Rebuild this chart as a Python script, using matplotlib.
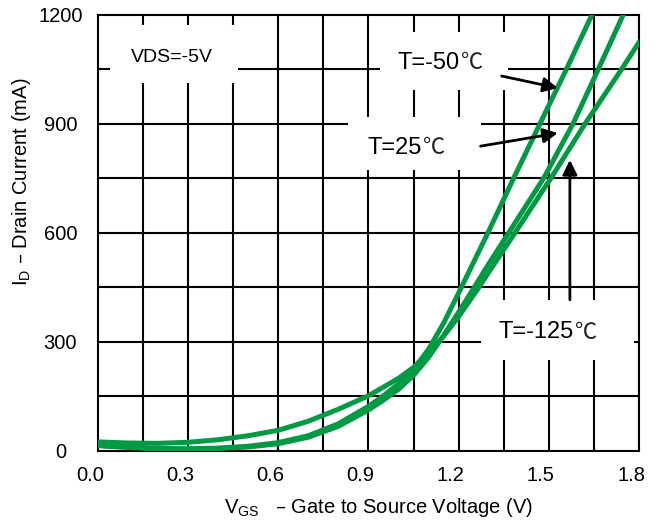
import numpy as np
import matplotlib.pyplot as plt
import matplotlib.transforms as mtransforms
from matplotlib.patches import Rectangle

plt.rcParams['font.family'] = ['Liberation Sans', 'Noto Sans CJK SC', 'DejaVu Sans']

# transfer curves (VGS in V, ID in mA)
vgs_m50 = [0.0, 0.1, 0.2, 0.3, 0.4, 0.5, 0.6, 0.7, 0.8, 0.9, 0.95, 1.0, 1.05,
           1.1, 1.15, 1.2, 1.25, 1.3, 1.383, 1.47, 1.557, 1.643]
id_m50 = [15, 10, 7, 6, 8, 13, 23, 42, 75, 123, 152, 185, 225,
          280, 352, 435, 520, 605, 751, 900, 1048, 1200]

vgs_25 = [0.0, 0.1, 0.2, 0.3, 0.4, 0.5, 0.6, 0.7, 0.8, 0.9, 0.95, 1.0, 1.05,
          1.1, 1.15, 1.2, 1.25, 1.3, 1.38, 1.483, 1.58, 1.663, 1.747]
id_25 = [15, 10, 6, 5, 7, 11, 20, 38, 68, 113, 140, 170, 208,
         258, 318, 382, 448, 515, 618, 751, 900, 1048, 1200]

vgs_125 = [0.0, 0.1, 0.2, 0.3, 0.4, 0.5, 0.6, 0.7, 0.8, 0.9, 1.0, 1.05,
           1.1, 1.15, 1.2, 1.263, 1.3, 1.387, 1.507, 1.62, 1.74, 1.8]
id_125 = [25, 22, 21, 24, 31, 42, 57, 82, 115, 152, 200, 230,
          270, 316, 370, 445, 492, 600, 751, 900, 1048, 1125]

x_ticks = [0.0, 0.3, 0.6, 0.9, 1.2, 1.5, 1.8]
y_ticks = [0, 300, 600, 900, 1200]

green = '#009a44'

fig = plt.figure(figsize=(6.66, 5.26), dpi=100)
ax = fig.add_axes([0.147, 0.1426, 0.8125, 0.8289])
ax.set_xlim(0, 1.8)
ax.set_ylim(0, 1200)

# grid every 0.15 V and 150 mA
for v in np.arange(0.15, 1.8, 0.15):
    ax.axvline(v, color='black', lw=1.5, zorder=1)
for i in np.arange(150, 1200, 150):
    ax.axhline(i, color='black', lw=1.5, zorder=1)
for s in ax.spines.values():
    s.set_linewidth(1.5)

# white boxes behind the labels (they cut the grid)
boxes = [(0.04, 1013, 0.427, 159), (0.94, 993, 0.423, 160),
         (0.833, 773, 0.44, 146), (1.273, 250, 0.51, 166)]
for bx, by, bw, bh in boxes:
    ax.add_patch(Rectangle((bx, by), bw, bh, facecolor='white',
                           edgecolor='none', zorder=2))

ax.plot(vgs_m50, id_m50, color=green, lw=3.6, zorder=4, solid_joinstyle='round')
ax.plot(vgs_25, id_25, color=green, lw=3.6, zorder=4, solid_joinstyle='round')
ax.plot(vgs_125, id_125, color=green, lw=3.6, zorder=4, solid_joinstyle='round')

ax.text(0.247, 1082, 'VDS=-5V', fontsize=14, ha='center', va='center', zorder=5)


def temp_label(x, y, txt):
    t = ax.text(x, y, txt, fontsize=17, ha='left', va='center', zorder=5)
    ax.annotate('℃', xy=(1.0, 0.5), xycoords=t, xytext=(1, 0),
                textcoords='offset points', fontsize=16,
                family=['Noto Sans CJK SC', 'DejaVu Sans'], fontweight='light',
                ha='left', va='center', zorder=5, color='#222222')


temp_label(0.997, 1068, 'T=-50')
temp_label(0.897, 834, 'T=25')
temp_label(1.333, 327, 'T=-125')

arrow = dict(arrowstyle='-|>', color='black', lw=2, mutation_scale=22,
             shrinkA=0, shrinkB=0)
ax.annotate('', xy=(1.53, 999), xytext=(1.343, 1032), arrowprops=arrow, zorder=6)
ax.annotate('', xy=(1.53, 875), xytext=(1.273, 839), arrowprops=arrow, zorder=6)
ax.annotate('', xy=(1.57, 801), xytext=(1.57, 416), arrowprops=arrow, zorder=6)

ax.set_xticks(x_ticks)
ax.set_xticklabels([f'{v:.1f}' for v in x_ticks])
ax.set_yticks(y_ticks)
ax.set_yticklabels([str(v) for v in y_ticks], ha='center')
ax.tick_params(axis='x', length=0, pad=11, labelsize=14.5)
ax.tick_params(axis='y', length=0, pad=27, labelsize=14.5)
shift = mtransforms.ScaledTranslation(-8 / 100, 0, fig.dpi_scale_trans)
for lab in ax.get_xticklabels():
    lab.set_transform(lab.get_transform() + shift)

ax.set_xlabel(r'$\mathregular{V_{GS}}$   – Gate to Source Voltage (V)',
              fontsize=14.5)
ax.xaxis.set_label_coords(0.519, -0.103)
ax.set_ylabel(r'$\mathregular{I_D}$ – Drain Current (mA)', fontsize=14.5)
ax.yaxis.set_label_coords(-0.12, 0.617)

fig.savefig('out.png', dpi=100)
